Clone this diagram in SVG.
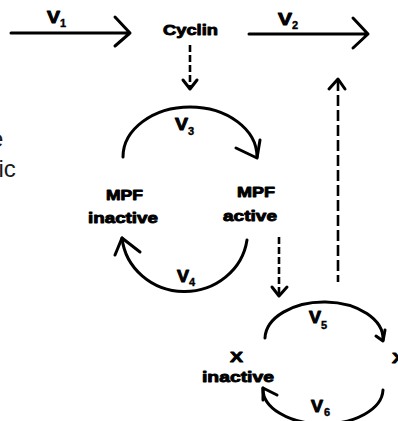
<svg xmlns="http://www.w3.org/2000/svg" width="398" height="421" viewBox="0 0 398 421">
<style>
.b{font-family:"Liberation Sans",Arial,sans-serif;font-weight:bold;font-size:15px;fill:#000;stroke:#000;stroke-width:0.9;stroke-linejoin:round}
.v{font-size:16px}
.s{font-family:"Liberation Sans",Arial,sans-serif;font-weight:bold;font-size:11px;fill:#000;stroke:#000;stroke-width:0.4}
.r{font-family:"Liberation Sans",Arial,sans-serif;font-size:24px;fill:#1a1a1a}
.ln{fill:none;stroke:#000;stroke-width:3;stroke-linecap:round;stroke-linejoin:round}
.d{fill:none;stroke:#000;stroke-width:2.6;stroke-dasharray:7 3}
.d2{fill:none;stroke:#000;stroke-width:2.6;stroke-dasharray:11 4}
</style>
<rect width="398" height="421" fill="#fff"/>
<g id="left-text">
<text class="r" x="-10" y="147">e</text>
<text class="r" x="-1.5" y="177">ic</text>
</g>
<g id="cyclin"><text class="b" x="163" y="35" font-size="14" textLength="55" lengthAdjust="spacingAndGlyphs">Cyclin</text></g>
<g id="mpf-inactive">
<text class="b" x="106" y="200" textLength="37" lengthAdjust="spacingAndGlyphs">MPF</text>
<text class="b" x="88" y="223" textLength="70" lengthAdjust="spacingAndGlyphs">inactive</text>
</g>
<g id="mpf-active">
<text class="b" x="237" y="197" textLength="38" lengthAdjust="spacingAndGlyphs">MPF</text>
<text class="b" x="223" y="221" textLength="54" lengthAdjust="spacingAndGlyphs">active</text>
</g>
<g id="x-inactive">
<text class="b" x="230" y="362" textLength="13" lengthAdjust="spacingAndGlyphs">X</text>
<text class="b" x="202" y="382" textLength="72" lengthAdjust="spacingAndGlyphs">inactive</text>
</g>
<g id="x-active"><text class="b" x="392" y="363" textLength="13" lengthAdjust="spacingAndGlyphs">X</text></g>
<g id="connectors">
<path class="ln" d="M11,33 H130 M115,17 L130,33 L115,46"/>
<path class="ln" d="M249,34 H368 M353,18 L368,34 L353,48"/>
<path class="d" d="M190,45 V88"/>
<path class="ln" d="M183,80 L190,89 L197,80"/>
<path class="d2" d="M338,80 V282"/>
<path class="ln" d="M329,89 L338,79 L345,89"/>
<path class="d" d="M279,237 V294"/>
<path class="ln" d="M272,287 L279,296 L287,287"/>
<path class="ln" d="M123,157 A67,50 0 0 1 257,157"/>
<path class="ln" d="M236,148 L257,158 L260,140"/>
<path class="ln" d="M247,240 A63,60 0 0 1 122,238"/>
<path class="ln" d="M115,255 L122,238 L140,252"/>
<path class="ln" d="M265,338 A59,37 0 0 1 383,340"/>
<path class="ln" d="M376,336 L383,341 L385,330"/>
<path class="ln" d="M383,390 A60,35 0 0 1 263,388"/>
<path class="ln" d="M263,400 L263,388 L277,395"/>
</g>
<g id="labels">
<text class="b v" x="47" y="23" textLength="13" lengthAdjust="spacingAndGlyphs">V</text><text class="s" x="60" y="27">1</text>
<text class="b v" x="278" y="25" textLength="14" lengthAdjust="spacingAndGlyphs">V</text><text class="s" x="292" y="29">2</text>
<text class="b v" x="175" y="130" textLength="13" lengthAdjust="spacingAndGlyphs">V</text><text class="s" x="188" y="135">3</text>
<text class="b v" x="177" y="282" textLength="12" lengthAdjust="spacingAndGlyphs">V</text><text class="s" x="189" y="286">4</text>
<text class="b v" x="309" y="323" textLength="12" lengthAdjust="spacingAndGlyphs">V</text><text class="s" x="321" y="329">5</text>
<text class="b v" x="311" y="412" textLength="12" lengthAdjust="spacingAndGlyphs">V</text><text class="s" x="324" y="416">6</text>
</g>
</svg>
